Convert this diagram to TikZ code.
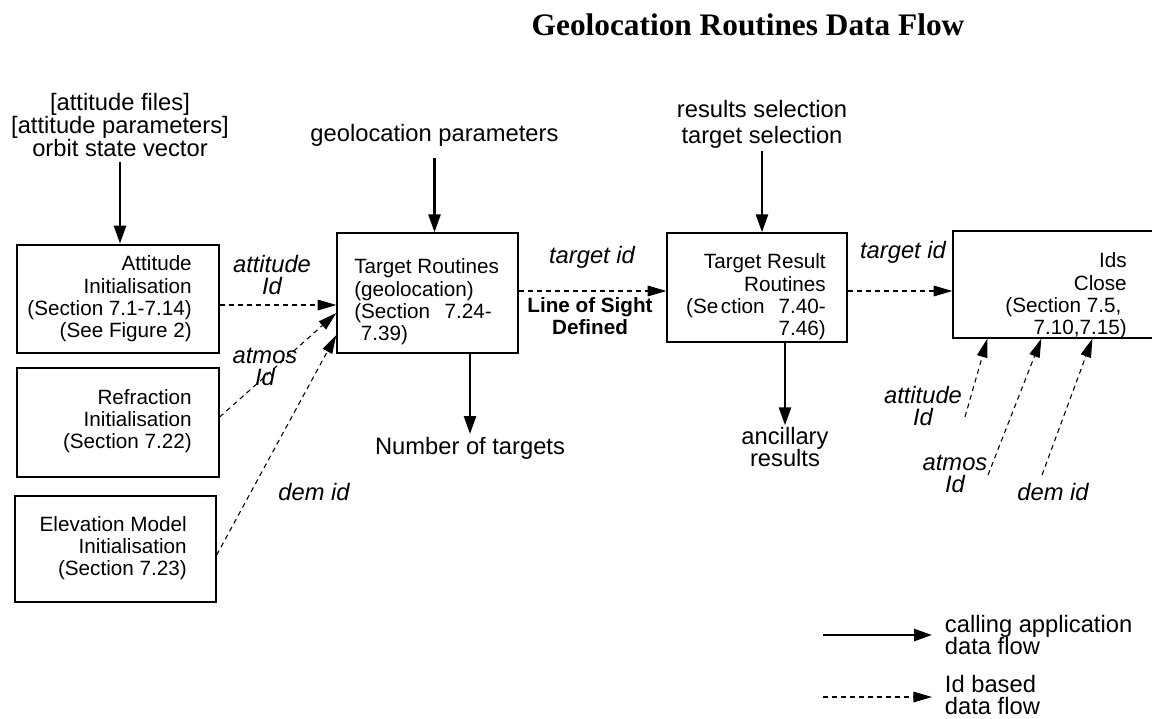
\documentclass[tikz,border=0pt]{standalone}
\usepackage{fontspec}
\setmainfont{Liberation Sans}
\newfontfamily\fontetitulo{Liberation Serif}
\usetikzlibrary{arrows.meta,positioning}
\tikzset{
  caixa/.style={draw, line width=1pt, inner sep=0pt},
  txtcaixa/.style={inner sep=0pt, font=\fontsize{15.5}{16.7}\selectfont},
  rotulo/.style={inner sep=0pt, align=center, font=\fontsize{17.8}{17}\selectfont},
  rotuloit/.style={inner sep=0pt, align=center, font=\fontsize{17.8}{16.5}\selectfont\itshape},
  fluxo/.style={line width=2pt, -{Triangle[length=13.5pt,width=9pt]}},
  fluxoid/.style={line width=.8pt, dash pattern=on 3.75pt off 3pt, -{Triangle[length=14pt,width=8pt]}},
}
\begin{document}
\begin{tikzpicture}[x=.75pt, y=-.75pt]
  \useasboundingbox (0,0) rectangle (1152,718);
  \node[inner sep=0pt, font=\fontetitulo\bfseries\fontsize{23.5}{26}\selectfont]
    (titulo) at (748,25) {Geolocation Routines Data Flow};  % titulo
  % caixas
  \node[caixa, line width=2pt, minimum width=151.5pt, minimum height=81pt] (atitude) at (118,299) {};
  \node[caixa, minimum width=151.5pt, minimum height=81.75pt] (refracao) at (118,422.5) {};
  \node[caixa, minimum width=150.75pt, minimum height=79.5pt] (elevacao) at (115.5,549) {};
  \node[caixa, minimum width=135.75pt, minimum height=90pt] (alvo) at (427.5,293) {};
  \node[caixa, minimum width=135pt, minimum height=81.75pt] (resultado) at (757,287.5) {};
  \node[caixa, minimum width=155.25pt, minimum height=80.25pt] (ids) at (1056.5,284.5) {};  % sai pela direita
  % textos das caixas
  \node[txtcaixa, anchor=east, align=right] (txtatitude) at (192,299)
    {Attitude\\Initialisation\\(Section 7.1-7.14)\\(See Figure 2)};
  \node[txtcaixa, anchor=east, align=right] (txtrefracao) at (192,421)
    {Refraction\\Initialisation\\(Section 7.22)};
  \node[txtcaixa, anchor=east, align=right] (txtelevacao) at (187,548)
    {Elevation Model\\Initialisation\\(Section 7.23)};
  \node[txtcaixa, anchor=west, align=left] (txtalvo) at (354,302)
    {Target Routines\\(geolocation)\\(Section\hspace{11pt}7.24-\\\kern5pt 7.39)};
  \node[txtcaixa, anchor=east, align=right] (txtresultado) at (826,297)
    {Target Result\\Routines\\(Se\kern2pt ction\hspace{10.5pt}7.40-\\7.46)};
  \node[txtcaixa, anchor=east, align=right] (txtids) at (1127,296)
    {Ids\\Close\\(Section 7.5,\kern4pt\\7.10,7.15)};
  % entradas e saidas
  \node[rotulo] (entatitude) at (120,125) {{[attitude files]}\\{[attitude parameters]}\\orbit state vector};
  \node[rotulo] (entgeo) at (434.5,135) {geolocation parameters};
  \node[rotulo] (entres) at (762,124) {results selection\\[2.5pt]target selection};
  \node[rotulo] (numalvos) at (470,448) {Number of targets};
  \node[rotulo] (ancilar) at (785,447) {ancillary\\results};
  \draw[fluxo, shorten <=4pt] (entatitude.south) -- (entatitude.south |- atitude.north);
  \draw[fluxo, shorten <=9pt] (entgeo.south) -- (entgeo.south |- alvo.north);
  \draw[fluxo, shorten <=2pt] (entres.south) -- (entres.south |- resultado.north);
  \draw[fluxo, shorten >=2pt] (alvo.south -| numalvos) -- (numalvos.north);
  \draw[fluxo, shorten >=1pt] (resultado.south -| ancilar) -- (ancilar.north);
  % ids (tracejado)
  \draw[fluxoid] (atitude.east |- 0,305) -- (alvo.west |- 0,305);
  \draw[fluxoid] (refracao.east |- 0,417) -- (alvo.west |- 0,313);
  \draw[fluxoid] (elevacao.east |- 0,555) -- (alvo.west |- 0,335);
  \draw[fluxoid] (alvo.east |- 0,291) -- (resultado.west |- 0,291);
  \draw[fluxoid] (resultado.east |- 0,291) -- (ids.west |- 0,291);
  \coordinate (attid) at (965,417);
  \coordinate (atmid) at (988,475);
  \coordinate (demid) at (1042,475);
  \draw[fluxoid] (attid) -- ([xshift=26.25pt]ids.south west);
  \draw[fluxoid] (atmid) -- ([xshift=66.75pt]ids.south west);
  \draw[fluxoid] (demid) -- ([xshift=105pt]ids.south west);
  % rotulos dos ids
  \node[rotuloit] (rotatt) at (272,275) {attitude\\Id};
  \node[rotuloit] (rotatm) at (265,367) {atmos\\Id};
  \node[rotuloit] (rotdem) at (314,492) {dem id};
  \node[rotuloit] (rotalvo) at (592,257) {target id};
  \node[inner sep=0pt, align=center, font=\fontsize{15.5}{16.5}\selectfont\bfseries]
    (linhavisada) at (590,316) {Line of Sight\\Defined};
  \node[rotuloit] (rotalvo2) at (903,252) {target id};
  \node[rotuloit] (rotatt2) at (923,406) {attitude\\Id};
  \node[rotuloit] (rotatm2) at (955,474) {atmos\\Id};
  \node[rotuloit] (rotdem2) at (1053,492) {dem id};
  % legenda
  \coordinate (leg1a) at (823,635);
  \coordinate (leg1b) at (932,635);
  \coordinate (leg2a) at (823,697);
  \coordinate (leg2b) at (932,697);
  \draw[fluxo] (leg1a) -- (leg1b);
  \draw[fluxoid] (leg2a) -- (leg2b);
  \node[rotulo, align=left, right=9.5pt of leg1b] (leg1txt) {calling application\\data flow};
  \node[rotulo, align=left, right=9.5pt of leg2b, yshift=1.5pt] (leg2txt) {Id based\\data flow};
\end{tikzpicture}
\end{document}
